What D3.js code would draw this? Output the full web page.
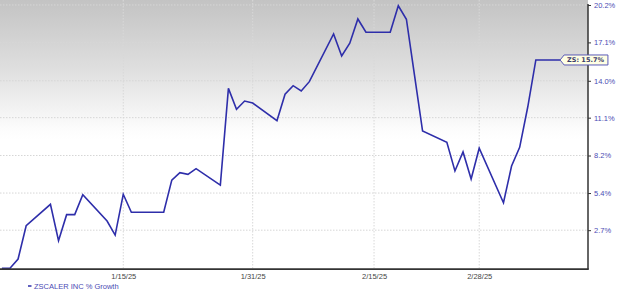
<!DOCTYPE html>
<html>
<head>
<meta charset="utf-8">
<script src="https://cdn.jsdelivr.net/npm/d3@7"></script>
<style>
  body { margin: 0; background: #fff; }
  svg { display: block; }
</style>
</head>
<body>
<script>
const overallWidth = 620
const overallHeight = 293
const margin = { left: 0, top: 5, right: 32, bottom: 24 }
const width = 588
const plotBottom = 268.3

// daily % growth of ZS (calendar days as plotted)
const dates = [
  '2024-12-31', '2025-01-01', '2025-01-02', '2025-01-03', '2025-01-06', '2025-01-07',
  '2025-01-08', '2025-01-09', '2025-01-10', '2025-01-13', '2025-01-14', '2025-01-15',
  '2025-01-16', '2025-01-17', '2025-01-20', '2025-01-21', '2025-01-22', '2025-01-23',
  '2025-01-24', '2025-01-27', '2025-01-28', '2025-01-29', '2025-01-30', '2025-01-31',
  '2025-02-03', '2025-02-04', '2025-02-05', '2025-02-06', '2025-02-07', '2025-02-10',
  '2025-02-11', '2025-02-12', '2025-02-13', '2025-02-14', '2025-02-17', '2025-02-18',
  '2025-02-19', '2025-02-20', '2025-02-21', '2025-02-24', '2025-02-25', '2025-02-26',
  '2025-02-27', '2025-02-28', '2025-03-03', '2025-03-04', '2025-03-05', '2025-03-06',
  '2025-03-07', '2025-03-10'
]
const growth = [
  0.0, 0.0, 0.65, 3.02, 4.57, 1.95,
  3.82, 3.82, 5.28, 3.36, 2.35, 5.31,
  3.99, 3.99, 3.99, 6.36, 6.91, 6.79,
  7.21, 5.99, 13.40, 11.75, 12.40, 12.24,
  10.86, 12.93, 13.61, 13.19, 13.93, 17.79,
  15.99, 17.03, 19.03, 17.93, 17.93, 20.14,
  19.01, 14.46, 10.07, 9.20, 7.04, 8.47,
  6.44, 8.75, 4.69, 7.41, 8.82, 11.93,
  15.67, 15.67
]
const yTicks = [2.7, 5.4, 8.2, 11.1, 14.0, 17.1, 20.2]
const xTicks = ['2025-01-15', '2025-01-31', '2025-02-15', '2025-02-28']
const seriesName = 'ZSCALER INC % Growth'
const tag = 'ZS'

const parse = d3.timeParse('%Y-%m-%d')
const data = dates.map((d, i) => ({ date: parse(d), value: growth[i] }))

const lineColor = '#2e2eaa'
const labelColor = '#4b4bb4'

const svg = d3.select('body').append('svg')
  .attr('width', overallWidth)
  .attr('height', overallHeight)
  .style('font-family', '"DejaVu Sans", Verdana, sans-serif')

const defs = svg.append('defs')
const grad = defs.append('linearGradient')
  .attr('id', 'bgGrad')
  .attr('x1', 0).attr('y1', 0).attr('x2', 0).attr('y2', 1)
grad.append('stop').attr('offset', '0%').attr('stop-color', '#c3c3c3')
grad.append('stop').attr('offset', '25%').attr('stop-color', '#dedede')
grad.append('stop').attr('offset', '48%').attr('stop-color', '#fcfcfc')
grad.append('stop').attr('offset', '52%').attr('stop-color', '#ffffff')

svg.append('rect')
  .attr('x', 0).attr('y', 0)
  .attr('width', width).attr('height', plotBottom)
  .attr('fill', 'url(#bgGrad)')

// calendar-day time scale, ~8.09 px per day
const x = d3.scaleTime()
  .domain([parse('2024-12-31'), parse('2025-03-14')])
  .range([1.9, 1.9 + 73 * 8.09])

// log scale on (1 + growth)
const y = d3.scaleLog()
  .domain([1, 1.202])
  .range([plotBottom, margin.top])
const yv = v => y(1 + v / 100)

// grid
svg.append('g').attr('class', 'grid')
  .selectAll('line')
  .data(yTicks)
  .enter().append('line')
  .attr('x1', 0).attr('x2', width)
  .attr('y1', d => yv(d)).attr('y2', d => yv(d))
  .attr('stroke', '#d6d6d6')
  .attr('stroke-dasharray', '1.5,1.5')

svg.append('g').attr('class', 'grid')
  .selectAll('line')
  .data(xTicks)
  .enter().append('line')
  .attr('x1', d => x(parse(d))).attr('x2', d => x(parse(d)))
  .attr('y1', 0).attr('y2', plotBottom)
  .attr('stroke', '#d8d8d8')
  .attr('stroke-dasharray', '1.5,1.5')

// line
const line = d3.line()
  .x(d => x(d.date))
  .y(d => yv(d.value))

svg.append('path')
  .datum(data)
  .attr('fill', 'none')
  .attr('stroke', lineColor)
  .attr('stroke-width', 1.6)
  .attr('stroke-linejoin', 'miter')
  .attr('d', line)

// right axis
svg.append('g').attr('class', 'y axis')
  .attr('transform', `translate(${width},0)`)
  .call(d3.axisRight(y)
    .tickValues(yTicks.map(t => 1 + t / 100))
    .tickSize(3)
    .tickPadding(3)
    .tickFormat((d, i) => yTicks[i].toFixed(1) + '%'))
  .call(g => g.select('.domain')
    .attr('d', `M0,${margin.top - 1}V${plotBottom + 1}`)
    .attr('stroke', '#333')
    .attr('stroke-width', 1.5))
  .call(g => g.selectAll('.tick line').attr('stroke', '#333'))
  .call(g => g.selectAll('.tick text')
    .attr('fill', labelColor)
    .style('font-size', '7.5px'))

// bottom axis
svg.append('g').attr('class', 'x axis')
  .attr('transform', `translate(0,${plotBottom + 0.8})`)
  .call(d3.axisBottom(x)
    .tickValues(xTicks.map(parse))
    .tickSize(0)
    .tickPadding(5)
    .tickFormat(d3.timeFormat('%-m/%-d/%y')))
  .call(g => g.select('.domain')
    .attr('d', `M0,0H${width + 0.75}`)
    .attr('stroke', '#333')
    .attr('stroke-width', 1.6))
  .call(g => g.selectAll('.tick text')
    .attr('fill', '#444')
    .style('font-size', '7.5px'))

// end tag
const last = data[data.length - 1]
const tx = x(last.date)
const ty = yv(last.value)
const tagText = `${tag}: ${last.value.toFixed(1)}%`
const tagG = svg.append('g').attr('class', 'tag')
const tagBox = tagG.append('path')
const tagLabel = tagG.append('text')
  .attr('x', tx + 7)
  .attr('y', ty + 0.5)
  .attr('dominant-baseline', 'central')
  .style('font-size', '6.5px')
  .style('font-weight', 'bold')
  .attr('fill', '#3a3a6a')
  .text(tagText)
const tagW = tagLabel.node().getComputedTextLength() + 11
tagBox
  .attr('d', `M${tx},${ty} L${tx + 4},${ty - 5} H${tx + tagW} V${ty + 5} H${tx + 4} Z`)
  .attr('fill', '#ffffe3')
  .attr('stroke', '#5a5ab8')
  .attr('stroke-width', 1)

// legend
svg.append('line')
  .attr('x1', 28).attr('x2', 31.5)
  .attr('y1', 286).attr('y2', 286)
  .attr('stroke', lineColor)
  .attr('stroke-width', 1.5)
svg.append('text')
  .attr('x', 34)
  .attr('y', 286)
  .attr('dominant-baseline', 'central')
  .style('font-family', '"Liberation Sans", Arial, sans-serif')
  .style('font-size', '7.5px')
  .attr('fill', labelColor)
  .text(seriesName)
</script>
</body>
</html>
